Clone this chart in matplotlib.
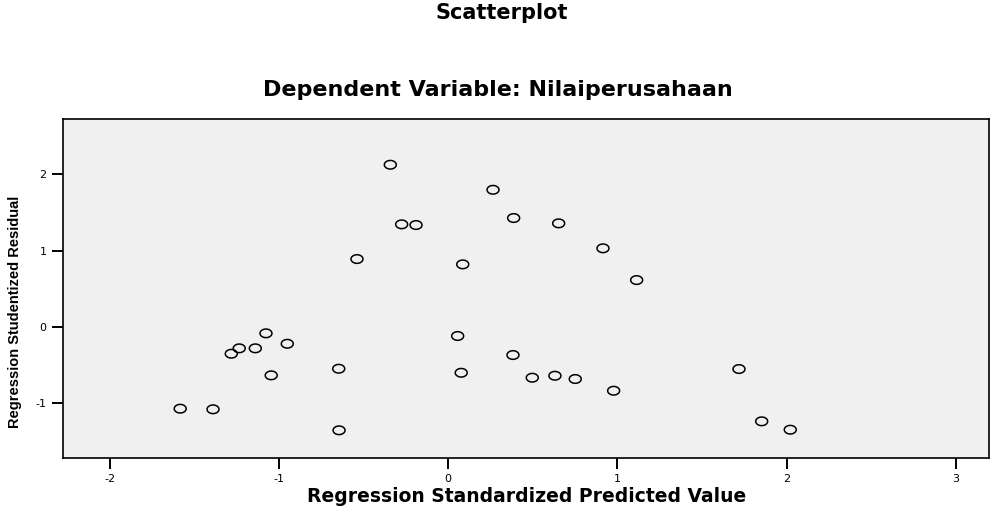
import numpy as np
import matplotlib.pyplot as plt
from matplotlib.path import Path

# regression standardized predicted value / studentized residual
pred = [-1.584, -1.390, -1.282, -1.235, -1.140, -1.077, -1.046, -0.951,
        -0.647, -0.645, -0.539, -0.342, -0.275, -0.190, 0.056, 0.077,
        0.086, 0.265, 0.383, 0.387, 0.497, 0.631, 0.653, 0.751,
        0.915, 0.978, 1.114, 1.719, 1.853, 2.022]
resid = [-1.078, -1.086, -0.356, -0.285, -0.285, -0.088, -0.640, -0.225,
         -0.553, -1.362, 0.888, 2.127, 1.344, 1.335, -0.123, -0.606,
         0.818, 1.798, -0.373, 1.427, -0.671, -0.645, 1.357, -0.688,
         1.029, -0.842, 0.612, -0.557, -1.244, -1.354]

xticks = [-2, -1, 0, 1, 2, 3]
yticks = [-1, 0, 1, 2]

plt.rcParams['font.family'] = ['DejaVu Sans']
plt.rcParams['axes.unicode_minus'] = False

# flattened circle marker, like the SPSS output
t = np.linspace(0, 2 * np.pi, 60)
ellipse = Path(np.column_stack([np.cos(t), 0.72 * np.sin(t)]), closed=True)

fig = plt.figure(figsize=(10.03, 5.08), dpi=100)
ax = fig.add_axes([0.0631, 0.099, 0.923, 0.666])
ax.set_facecolor('#f0f0f0')

ax.scatter(pred, resid, marker=ellipse, s=8.6**2, facecolors='none',
           edgecolors='black', linewidths=1.1)

ax.set_xlim(-2.275, 3.197)
ax.set_ylim(-1.722, 2.723)
ax.set_xticks(xticks)
ax.set_yticks(yticks)
ax.tick_params(direction='out', length=8, width=1.4, labelsize=8, pad=4)
for s in ax.spines.values():
    s.set_linewidth(1.2)

ax.set_xlabel("Regression Standardized Predicted Value", fontsize=13.5,
              fontweight='bold', va='center')
ax.xaxis.set_label_coords(0.5, -0.114)
ax.set_ylabel("Regression Studentized Residual", fontsize=10.5,
              fontweight='bold', family=['Liberation Sans', 'DejaVu Sans'])
ax.yaxis.set_label_coords(-0.045, 0.43)

fig.text(0.5, 0.975, "Scatterplot", ha='center', va='center',
         fontsize=15, fontweight='bold')
fig.text(0.496, 0.823, "Dependent Variable: Nilaiperusahaan", ha='center',
         va='center', fontsize=16, fontweight='bold')

fig.savefig('out.png', dpi=100)
